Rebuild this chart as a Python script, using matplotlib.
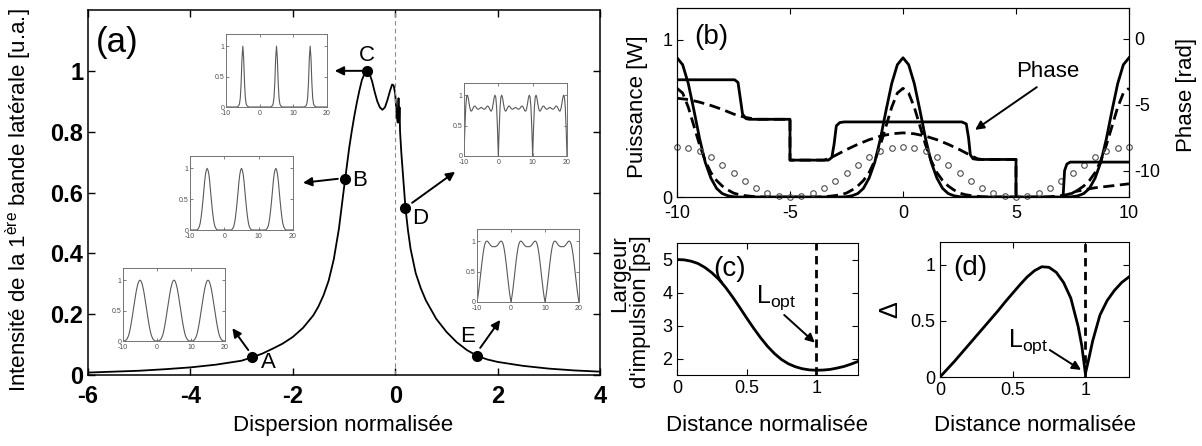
import numpy as np
import matplotlib.pyplot as plt

plt.rcParams['font.family'] = ['Liberation Sans', 'DejaVu Sans']
plt.rcParams['mathtext.fontset'] = 'custom'
plt.rcParams['mathtext.rm'] = 'Liberation Sans'
plt.rcParams['axes.unicode_minus'] = False

# ---- (a) first sideband intensity vs normalised dispersion
DISP = [-6.0, -5.5, -5.0, -4.5, -4.0, -3.5, -3.0, -2.8, -2.6, -2.4, -2.2, -2.0,
        -1.8, -1.6, -1.5, -1.4, -1.3, -1.2, -1.1, -1.0, -0.95, -0.9, -0.85, -0.8,
        -0.75, -0.7, -0.65, -0.6, -0.55, -0.5, -0.45, -0.4, -0.35, -0.3, -0.25,
        -0.2, -0.15, -0.1, -0.06, -0.03, 0.0, 0.03, 0.05, 0.065, 0.075, 0.085,
        0.095, 0.12, 0.16, 0.2, 0.25, 0.3, 0.4, 0.5, 0.6, 0.8, 1.0, 1.2, 1.4,
        1.6, 1.8, 2.0, 2.5, 3.0, 3.5, 4.0]
INTENS = [0.008, 0.011, 0.014, 0.019, 0.025, 0.034, 0.047, 0.058, 0.07, 0.086,
          0.103, 0.125, 0.155, 0.196, 0.225, 0.262, 0.31, 0.38, 0.48, 0.615,
          0.68, 0.745, 0.8, 0.85, 0.895, 0.935, 0.97, 0.99, 1.0, 0.99, 0.965,
          0.93, 0.9, 0.88, 0.872, 0.88, 0.905, 0.935, 0.955, 0.952, 0.925, 0.85,
          0.83, 0.91, 0.83, 0.88, 0.8, 0.73, 0.64, 0.55, 0.475, 0.415, 0.335,
          0.285, 0.245, 0.185, 0.142, 0.108, 0.082, 0.063, 0.051, 0.043, 0.03,
          0.021, 0.015, 0.011]
PTS_LAB = ['A', 'B', 'C', 'D', 'E']
PTS_X = [-2.8, -0.98, -0.55, 0.2, 1.6]
PTS_Y = [0.058, 0.643, 1.0, 0.55, 0.063]

# inset temporal profiles, one period (t = 0..10, step 0.25), repeated 3 times
INSET_A = [0, 0, 0, 0.01, 0.02, 0.04, 0.07, 0.11, 0.17, 0.24, 0.32, 0.41, 0.5,
           0.59, 0.68, 0.77, 0.85, 0.91, 0.96, 0.99, 1,
           0.99, 0.96, 0.91, 0.85, 0.77, 0.68, 0.59, 0.5, 0.41, 0.32, 0.24,
           0.17, 0.11, 0.07, 0.04, 0.02, 0.01, 0, 0, 0]
INSET_B = [0, 0, 0, 0, 0, 0, 0, 0, 0, 0.01, 0.03, 0.06, 0.12, 0.21, 0.33, 0.47,
           0.62, 0.78, 0.9, 0.97, 1,
           0.97, 0.9, 0.78, 0.62, 0.47, 0.33, 0.21, 0.12, 0.06, 0.03, 0.01,
           0, 0, 0, 0, 0, 0, 0, 0, 0]
INSET_C = [0, 0, 0, 0, 0, 0, 0, 0, 0, 0, 0, 0, 0, 0, 0.01, 0.02, 0.05, 0.15,
           0.4, 0.8, 1,
           0.8, 0.4, 0.15, 0.05, 0.02, 0.01, 0, 0, 0, 0, 0, 0, 0, 0, 0, 0, 0,
           0, 0, 0]
INSET_D = [0, 0.45, 0.8, 0.97, 1.0, 0.95, 0.86, 0.78, 0.74, 0.74, 0.77, 0.8,
           0.82, 0.82, 0.8, 0.78, 0.77, 0.77, 0.78, 0.79, 0.8,
           0.79, 0.78, 0.77, 0.77, 0.78, 0.8, 0.82, 0.82, 0.8, 0.77, 0.74,
           0.74, 0.78, 0.86, 0.95, 1.0, 0.97, 0.8, 0.45, 0]
INSET_E = [0, 0.08, 0.18, 0.3, 0.42, 0.55, 0.67, 0.78, 0.87, 0.94, 0.98, 1.0,
           1.0, 0.99, 0.97, 0.95, 0.93, 0.92, 0.91, 0.91, 0.91,
           0.91, 0.91, 0.92, 0.93, 0.95, 0.97, 0.99, 1.0, 1.0, 0.98, 0.94,
           0.87, 0.78, 0.67, 0.55, 0.42, 0.3, 0.18, 0.08, 0]

# ---- (b) power and phase profiles
POW_X = np.arange(-10, 10.01, 0.25)
POW_SOLID = [0.884, 0.84, 0.72, 0.55, 0.37, 0.22, 0.12, 0.055, 0.022, 0.008, 0.002,
             0, 0, 0, 0, 0, 0, 0, 0, 0, 0,
             0, 0, 0, 0, 0, 0, 0, 0, 0, 0.002, 0.008, 0.022, 0.055, 0.12, 0.22,
             0.37, 0.55, 0.72, 0.84, 0.884,
             0.84, 0.72, 0.55, 0.37, 0.22, 0.12, 0.055, 0.022, 0.008, 0.002,
             0, 0, 0, 0, 0, 0, 0, 0, 0, 0,
             0, 0, 0, 0, 0, 0, 0, 0, 0, 0.002, 0.008, 0.022, 0.055, 0.12, 0.22,
             0.37, 0.55, 0.72, 0.84, 0.884]
POW_DASH = [0.69, 0.66, 0.57, 0.45, 0.33, 0.23, 0.155, 0.105, 0.07, 0.045, 0.025,
            0.015, 0.009, 0.005, 0.002, 0, 0, 0, 0, 0, 0,
            0, 0, 0, 0, 0, 0.002, 0.005, 0.009, 0.015, 0.025, 0.045, 0.07, 0.105,
            0.155, 0.23, 0.33, 0.45, 0.57, 0.66, 0.69,
            0.66, 0.57, 0.45, 0.33, 0.23, 0.155, 0.105, 0.07, 0.045, 0.025,
            0.015, 0.009, 0.005, 0.002, 0, 0, 0, 0, 0, 0,
            0, 0, 0, 0, 0, 0.002, 0.005, 0.009, 0.015, 0.025, 0.045, 0.07, 0.105,
            0.155, 0.23, 0.33, 0.45, 0.57, 0.66, 0.69]
CIRC_X = np.arange(-10, 10.01, 0.5)
CIRC = [0.315, 0.31, 0.29, 0.255, 0.205, 0.15, 0.10, 0.06, 0.025, 0.006, 0,
        0.006, 0.025, 0.06, 0.10, 0.15, 0.205, 0.255, 0.29, 0.31, 0.315,
        0.31, 0.29, 0.255, 0.205, 0.15, 0.10, 0.06, 0.025, 0.006, 0,
        0.006, 0.025, 0.06, 0.10, 0.15, 0.205, 0.255, 0.29, 0.31, 0.315]
PH_SOLID_X = [-10, -7.45, -7.3, -7.2, -7.1, -6.95, -6.8, -5.0, -5.0, -3.3, -3.15,
              -3.05, -2.95, -2.8, -2.6, 2.6, 2.8, 2.9, 2.98, 3.1, 3.3, 5.0, 5.0,
              7.05, 7.1, 7.15, 7.25, 7.4, 10]
PH_SOLID = [-3.1, -3.1, -3.3, -4.5, -5.7, -6.05, -6.1, -6.1, -9.2, -9.2, -9.0,
            -8.0, -6.6, -6.35, -6.3, -6.3, -6.45, -7.5, -8.8, -9.1, -9.15, -9.15,
            -12.6, -12.6, -11.5, -10.0, -9.5, -9.35, -9.35]
PH_DASH_X = [-10, -9.5, -9, -8.5, -8, -7.5, -7, -6.5, -5, -5, -3.5, -3.3, -3, -2.5,
             -2, -1.5, -1, -0.5, 0, 0.5, 1, 1.5, 2, 2.5, 3, 3.3, 3.5, 5, 5, 7.1,
             7.3, 7.6, 8, 8.5, 9, 9.5, 10]
PH_DASH = [-4.5, -4.6, -4.8, -5.05, -5.35, -5.7, -5.95, -6.1, -6.1, -9.2, -9.2,
           -9.1, -8.85, -8.4, -8.0, -7.65, -7.38, -7.2, -7.13, -7.2, -7.38, -7.65,
           -8.0, -8.4, -8.85, -9.1, -9.15, -9.15, -12.6, -12.6, -11.9, -11.6,
           -11.45, -11.3, -11.2, -11.1, -11.0]

# ---- (c) pulse width and (d) Delta vs normalised distance
DIST = [0, 0.05, 0.1, 0.15, 0.2, 0.25, 0.3, 0.35, 0.4, 0.45, 0.5, 0.55, 0.6, 0.65,
        0.7, 0.75, 0.8, 0.85, 0.9, 0.95, 1.0, 1.05, 1.1, 1.15, 1.2, 1.25, 1.3]
WIDTH = [5.0, 4.99, 4.95, 4.88, 4.76, 4.6, 4.4, 4.15, 3.86, 3.55, 3.23, 2.92, 2.63,
         2.37, 2.15, 1.97, 1.84, 1.75, 1.69, 1.655, 1.645, 1.65, 1.67, 1.71, 1.76,
         1.83, 1.91]
DIST_D = [0, 0.05, 0.1, 0.15, 0.2, 0.25, 0.3, 0.35, 0.4, 0.45, 0.5, 0.55, 0.6, 0.65,
          0.7, 0.75, 0.8, 0.85, 0.9, 0.95, 0.975, 1.0, 1.025, 1.05, 1.1, 1.15, 1.2,
          1.25, 1.3]
DELTA = [0, 0.07, 0.14, 0.215, 0.29, 0.365, 0.44, 0.515, 0.59, 0.67, 0.745, 0.82,
         0.89, 0.945, 0.98, 0.975, 0.93, 0.84, 0.7, 0.45, 0.28, 0.03, 0.17, 0.32,
         0.55, 0.68, 0.77, 0.84, 0.89]
L_OPT = 1.0

W, H = 1202, 446
fig = plt.figure(figsize=(W / 100, H / 100), dpi=100)


def px_axes(l, t, r, b):
    return fig.add_axes([l / W, 1 - b / H, (r - l) / W, (b - t) / H])


arrow = dict(arrowstyle='-|>', color='k', lw=1.4, mutation_scale=13,
             shrinkA=0, shrinkB=0)

# ---------------- panel (a)
ax_a = px_axes(88, 10, 600, 375)
ax_a.plot(DISP, INTENS, color='k', lw=1.3)
ax_a.axvline(0, color='0.55', lw=0.8, ls=(0, (4, 3)))
ax_a.plot(PTS_X, PTS_Y, 'o', color='k', ms=7)
lab_pos = [(-2.48, 0.04), (-0.69, 0.64), (-0.55, 1.05), (0.48, 0.516), (1.42, 0.125)]
arr_pos = [((-2.87, 0.082), (-3.18, 0.154)), ((-1.12, 0.645), (-1.8, 0.632)),
           ((-0.63, 1.0), (-1.18, 1.0)), ((0.33, 0.566), (1.17, 0.668)),
           ((1.66, 0.089), (2.05, 0.181))]
for lab, pos, (tail, head) in zip(PTS_LAB, lab_pos, arr_pos):
    ax_a.text(pos[0], pos[1], lab, fontsize=16, ha='center', va='center')
    ax_a.annotate('', xy=head, xytext=tail, arrowprops=arrow)
ax_a.set_xlim(-6, 4)
ax_a.set_ylim(0, 1.2)
ax_a.set_xticks([-6, -4, -2, 0, 2, 4])
ax_a.set_yticks([0, 0.2, 0.4, 0.6, 0.8, 1])
ax_a.set_yticklabels(['0', '0.2', '0.4', '0.6', '0.8', '1'])
ax_a.tick_params(direction='in', top=True, right=True, length=5, width=1,
                 labelsize=17)
ax_a.tick_params(axis='x', pad=7)
for t in ax_a.get_xticklabels() + ax_a.get_yticklabels():
    t.set_fontweight('bold')
for s in ax_a.spines.values():
    s.set_linewidth(1.1)
ax_a.set_ylabel('Intensité de la 1$^{\\mathregular{ère}}$ bande latérale [u.a.]',
                fontsize=16)
ax_a.yaxis.set_label_coords(-0.105, 0.48)
ax_a.set_xlabel('Dispersion normalisée', fontsize=16)
ax_a.xaxis.set_label_coords(0.498, -0.11)
ax_a.text(0.057, 0.91, '(a)', transform=ax_a.transAxes, fontsize=25,
          ha='center', va='center')

# insets
inset_boxes = [(123, 268, 225, 341), (190, 156, 293, 230), (226, 34, 327, 107),
               (464, 83, 567, 156), (477, 229, 579, 302)]
inset_x = np.arange(-10, 20.01, 0.25)
for box, period in zip(inset_boxes, [INSET_A, INSET_B, INSET_C, INSET_D, INSET_E]):
    ia = px_axes(*box)
    ia.plot(inset_x, period + period[1:] + period[1:], color='0.35', lw=0.8)
    ia.set_xlim(-10, 20)
    ia.set_ylim(0, 1.2)
    ia.set_xticks([-10, 0, 10, 20])
    ia.set_yticks([0, 0.5, 1])
    ia.set_yticklabels(['0', '0.5', '1'])
    ia.tick_params(direction='in', top=True, right=True, length=2, width=0.5,
                   labelsize=5, pad=1, colors='0.3')
    ia.tick_params(axis='x', pad=2.5)
    for s in ia.spines.values():
        s.set_linewidth(0.7)
        s.set_color('0.45')

# ---------------- panel (b)
ax_b = px_axes(677, 8, 1129, 197)
ax_b.plot(POW_X, POW_SOLID, color='k', lw=2)
ax_b.plot(POW_X, POW_DASH, color='k', lw=2, dashes=(4, 2))
ax_b.plot(CIRC_X, CIRC, 'o', mfc='none', mec='0.3', ms=4, mew=0.8, clip_on=False)
ax_b.set_xlim(-10, 10)
ax_b.set_ylim(0, 1.2)
ax_b.set_xticks([-10, -5, 0, 5, 10])
ax_b.set_yticks([0, 1])
ax_b.set_yticklabels(['0', '1'])
ax_b.tick_params(direction='in', top=True, length=4, labelsize=13)
ax_b.tick_params(axis='x', pad=6)
ax_b.set_ylabel('Puissance [W]', fontsize=16)
ax_b.yaxis.set_label_coords(-0.064, 0.48)
ax_b.text(0.077, 0.847, '(b)', transform=ax_b.transAxes, fontsize=20,
          ha='center', va='center')

ax_b2 = ax_b.twinx()
ax_b2.plot(PH_SOLID_X, PH_SOLID, color='k', lw=2)
ax_b2.plot(PH_DASH_X, PH_DASH, color='k', lw=2, dashes=(4, 2))
ax_b2.set_ylim(-12, 2.35)
ax_b2.set_yticks([0, -5, -10])
ax_b2.tick_params(direction='in', length=4, labelsize=13)
ax_b2.set_ylabel('Phase [rad]', fontsize=16)
ax_b2.yaxis.set_label_coords(1.104, 0.54)
ax_b2.text(6.42, -2.5, 'Phase', fontsize=16, ha='center', va='center')
ax_b2.annotate('', xy=(3.19, -6.9), xytext=(5.92, -3.66), arrowprops=arrow)

# ---------------- panel (c)
ax_c = px_axes(677, 243, 858, 375)
ax_c.plot(DIST, WIDTH, color='k', lw=2)
ax_c.axvline(L_OPT, color='k', lw=2, ls=(0, (3, 2)))
ax_c.set_xlim(0, 1.3)
ax_c.set_ylim(1.5, 5.5)
ax_c.set_xticks([0, 0.5, 1])
ax_c.set_xticklabels(['0', '0.5', '1'])
ax_c.set_yticks([2, 3, 4, 5])
ax_c.tick_params(direction='in', top=True, right=True, length=4, labelsize=13)
ax_c.set_ylabel("Largeur\nd'impulsion [ps]", fontsize=16, multialignment='right',
                linespacing=1.0)
ax_c.yaxis.set_label_coords(-0.144, 0.48)
ax_c.set_xlabel('Distance normalisée', fontsize=16)
ax_c.xaxis.set_label_coords(0.5, -0.30)
ax_c.text(0.29, 0.80, '(c)', transform=ax_c.transAxes, fontsize=20,
          ha='center', va='center')
ax_c.text(0.71, 3.85, 'L$_{\\mathregular{opt}}$', fontsize=18, ha='center',
          va='center')
ax_c.annotate('', xy=(0.99, 2.48), xytext=(0.77, 3.32), arrowprops=arrow)

# ---------------- panel (d)
ax_d = px_axes(940, 242, 1129, 377)
ax_d.plot(DIST_D, DELTA, color='k', lw=2)
ax_d.axvline(L_OPT, color='k', lw=2, ls=(0, (3, 2)))
ax_d.set_xlim(0, 1.3)
ax_d.set_ylim(0, 1.2)
ax_d.set_xticks([0, 0.5, 1])
ax_d.set_xticklabels(['0', '0.5', '1'])
ax_d.set_yticks([0, 0.5, 1])
ax_d.set_yticklabels(['0', '0.5', '1'])
ax_d.tick_params(direction='in', top=True, right=True, length=4, labelsize=13)
ax_d.set_ylabel('Δ', fontsize=18)
ax_d.yaxis.set_label_coords(-0.2, 0.5)
ax_d.set_xlabel('Distance normalisée', fontsize=16)
ax_d.xaxis.set_label_coords(0.5, -0.28)
ax_d.text(0.163, 0.81, '(d)', transform=ax_d.transAxes, fontsize=20,
          ha='center', va='center')
ax_d.text(0.61, 0.31, 'L$_{\\mathregular{opt}}$', fontsize=18, ha='center',
          va='center')
ax_d.annotate('', xy=(0.97, 0.063), xytext=(0.755, 0.24), arrowprops=arrow)

fig.savefig('out.png', dpi=100)
